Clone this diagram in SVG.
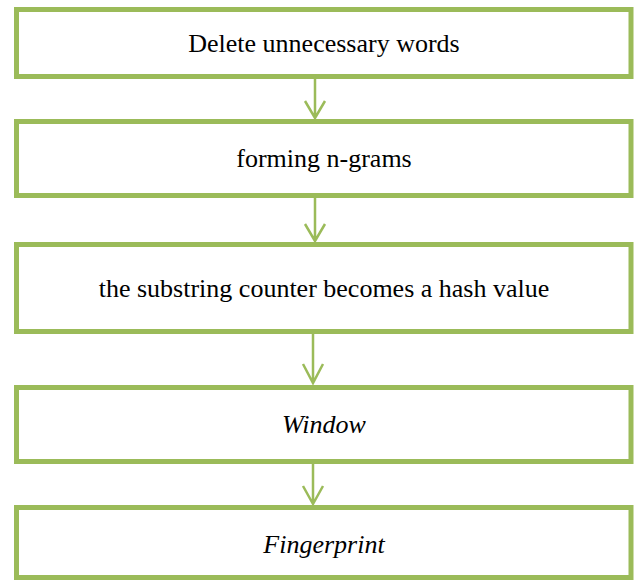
<svg xmlns="http://www.w3.org/2000/svg" width="634" height="582" viewBox="0 0 634 582">
<style>
.box{fill:#ffffff;stroke:#9bbb59;stroke-width:5}
.lbl{font-family:"Liberation Serif","Times New Roman",serif;font-size:26px;fill:#000000;text-anchor:middle}
.it{font-style:italic}
.conn{stroke:#9bbb59;stroke-width:2.5;fill:none}
</style>
<rect width="634" height="582" fill="#ffffff"/>
<g id="n1"><rect class="box" x="16.5" y="9.5" width="614.5" height="67"/><text class="lbl" x="324" y="52">Delete unnecessary words</text></g>
<g id="n2"><rect class="box" x="16.5" y="121.5" width="614.5" height="74"/><text class="lbl" x="324" y="167">forming n-grams</text></g>
<g id="n3"><rect class="box" x="16.5" y="244.5" width="614.5" height="87"/><text class="lbl" x="324" y="297">the substring counter becomes a hash value</text></g>
<g id="n4"><rect class="box" x="16.5" y="387.5" width="614.5" height="74"/><text class="lbl it" x="324" y="433">Window</text></g>
<g id="n5"><rect class="box" x="16.5" y="507.5" width="614.5" height="70"/><text class="lbl it" x="324" y="553">Fingerprint</text></g>
<g id="connectors">
<path class="conn" d="M315 79V118M305 101L315 118L325 101"/>
<path class="conn" d="M315 198V241M305 224L315 241L325 224"/>
<path class="conn" d="M313 334V383M303 364L313 383L323 364"/>
<path class="conn" d="M313 464V504M303 486L313 504L323 486"/>
</g>
</svg>
